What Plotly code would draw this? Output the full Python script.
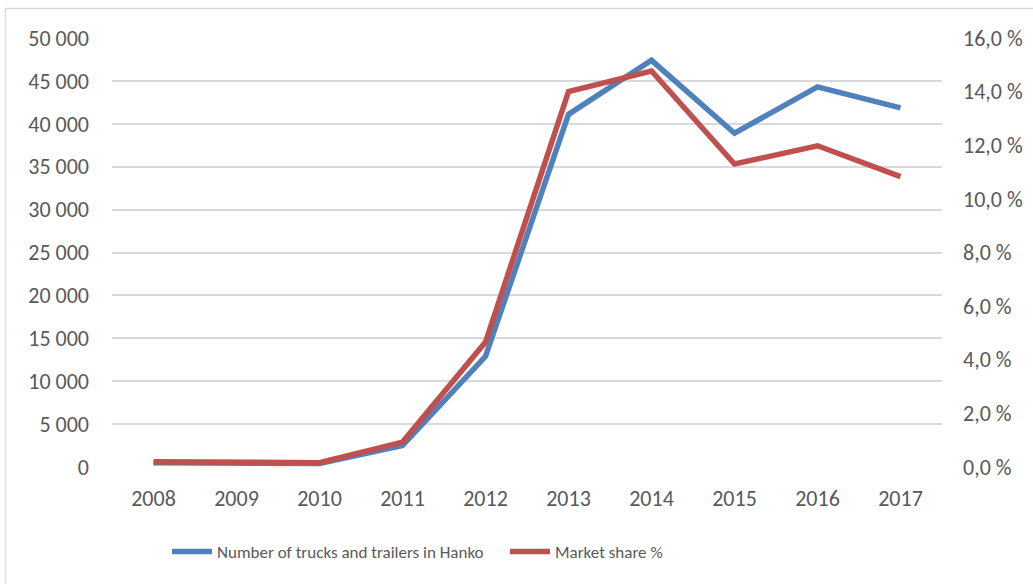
import plotly.graph_objects as go

years = ["2008", "2009", "2010", "2011", "2012", "2013", "2014", "2015", "2016", "2017"]
trucks = [500, 450, 400, 2500, 12900, 41100, 47400, 38900, 44300, 41850]
market_share = [0.20, 0.18, 0.16, 0.93, 4.66, 14.0, 14.77, 11.3, 11.98, 10.83]

left_ticks = [0, 5000, 10000, 15000, 20000, 25000, 30000, 35000, 40000, 45000, 50000]
left_labels = ["0", "5 000", "10 000", "15 000", "20 000", "25 000", "30 000", "35 000", "40 000", "45 000", "50 000"]
right_ticks = [0, 2, 4, 6, 8, 10, 12, 14, 16]
right_labels = ["0,0 %", "2,0 %", "4,0 %", "6,0 %", "8,0 %", "10,0 %", "12,0 %", "14,0 %", "16,0 %"]

FONT = "Carlito, 'Open Sans', sans-serif"
TXT = "#595959"
GRID = "#D9D9D9"
FS = 22
LFS = 17

fig = go.Figure()
fig.add_trace(go.Scatter(x=years, y=trucks, mode="lines", name="Number of trucks and trailers in Hanko",
                         line=dict(color="#4F81BD", width=5.5), yaxis="y"))
fig.add_trace(go.Scatter(x=years, y=market_share, mode="lines", name="Market share %",
                         line=dict(color="#C0504D", width=5.5), yaxis="y2"))

W, H = 1033, 584
L, R, T, B = 112, 91, 38, 117
pw, ph = W - L - R, H - T - B

fig.update_layout(
    width=W, height=H,
    margin=dict(l=L, r=R, t=T, b=B, autoexpand=False),
    paper_bgcolor="white", plot_bgcolor="white",
    font=dict(family=FONT, size=FS, color=TXT),
    showlegend=True,
    legend=dict(orientation="h", x=(167 - L) / pw, xanchor="left", y=-(552 - 467) / ph, yanchor="middle",
                font=dict(family=FONT, size=LFS, color=TXT), itemwidth=40, tracegroupgap=0,
                entrywidthmode="pixels", entrywidth=283),
    xaxis=dict(type="category", showgrid=False, zeroline=False, showline=False,
               ticks="", ticklabelstandoff=16, tickfont=dict(size=FS, color=TXT),
               range=[-0.5, 9.5]),
    yaxis=dict(range=[0, 50000], tickvals=left_ticks, ticktext=left_labels,
               showgrid=True, gridcolor=GRID, gridwidth=1.5, zeroline=False, showline=False,
               ticks="", ticklabelstandoff=22, tickfont=dict(size=FS, color=TXT)),
    yaxis2=dict(range=[0, 16], tickvals=right_ticks, ticktext=right_labels, overlaying="y", side="right",
                showgrid=False, zeroline=False, showline=False, ticks="", ticklabelstandoff=20,
                tickfont=dict(size=FS, color=TXT)),
    shapes=[dict(type="rect", xref="paper", yref="paper",
                 x0=(5.5 - L) / pw, x1=(W + 10 - L) / pw,
                 y0=-(H + 10 - (T + ph)) / ph, y1=1 + (T - 8.5) / ph,
                 line=dict(color=GRID, width=1.5), fillcolor="rgba(0,0,0,0)", layer="below")],
)

fig.write_html("out.html", config={"displayModeBar": False},
               post_script="document.body.style.margin='0';document.body.style.overflow='hidden';")
